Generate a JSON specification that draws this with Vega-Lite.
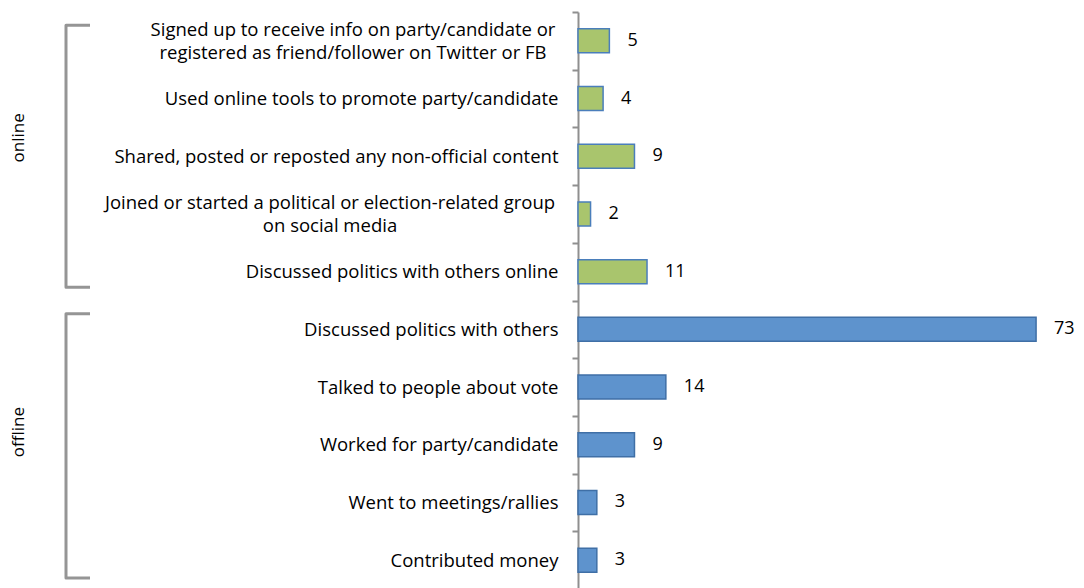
{
  "$schema": "https://vega.github.io/schema/vega-lite/v6.json",
  "background": "white",
  "padding": {"left": 0, "top": 3, "right": 0, "bottom": 0},
  "config": {"view": {"stroke": null}, "font": "Open Sans"},
  "spacing": 0,
  "hconcat": [
    {
      "width": 95,
      "height": 577,
      "layer": [
        {
          "data": {"values": [
            {"group": "online", "step": 1, "bx": 90, "by": 0.23},
            {"group": "online", "step": 2, "bx": 66, "by": 0.23},
            {"group": "online", "step": 3, "bx": 66, "by": 4.77},
            {"group": "online", "step": 4, "bx": 90, "by": 4.77},
            {"group": "offline", "step": 1, "bx": 90, "by": 5.23},
            {"group": "offline", "step": 2, "bx": 66, "by": 5.23},
            {"group": "offline", "step": 3, "bx": 66, "by": 9.81},
            {"group": "offline", "step": 4, "bx": 90, "by": 9.81}
          ]},
          "mark": {"type": "line", "stroke": "#959595", "strokeWidth": 3, "strokeJoin": "round"},
          "encoding": {
            "x": {"field": "bx", "type": "quantitative", "scale": {"domain": [0, 95]}, "axis": null},
            "y": {"field": "by", "type": "quantitative", "scale": {"domain": [0, 10], "reverse": true}, "axis": null},
            "detail": {"field": "group"},
            "order": {"field": "step", "type": "quantitative"}
          }
        },
        {
          "data": {"values": [
            {"group": "online", "tx": 19, "ty": 2.18},
            {"group": "offline", "tx": 19, "ty": 7.28}
          ]},
          "mark": {"type": "text", "angle": 270, "fontSize": 17, "align": "center", "baseline": "middle", "color": "black"},
          "encoding": {
            "x": {"field": "tx", "type": "quantitative", "scale": {"domain": [0, 95]}, "axis": null},
            "y": {"field": "ty", "type": "quantitative", "scale": {"domain": [0, 10], "reverse": true}, "axis": null},
            "text": {"field": "group"}
          }
        }
      ]
    },
    {
      "width": 502,
      "height": 577,
      "data": {"values": [
        {"group": "online", "label": "Signed up to receive info on party/candidate or|registered as friend/follower on Twitter or FB", "value": 5},
        {"group": "online", "label": "Used online tools to promote party/candidate", "value": 4},
        {"group": "online", "label": "Shared, posted or reposted any non-official content", "value": 9},
        {"group": "online", "label": "Joined or started a political or election-related group|on social media", "value": 2},
        {"group": "online", "label": "Discussed politics with others online", "value": 11},
        {"group": "offline", "label": "Discussed politics with others", "value": 73},
        {"group": "offline", "label": "Talked to people about vote", "value": 14},
        {"group": "offline", "label": "Worked for party/candidate", "value": 9},
        {"group": "offline", "label": "Went to meetings/rallies", "value": 3},
        {"group": "offline", "label": "Contributed money", "value": 3}
      ]},
      "encoding": {
        "y": {
          "field": "label", "type": "nominal", "sort": null,
          "scale": {"paddingInner": 0, "paddingOuter": 0},
          "axis": {
            "title": null, "domainColor": "#8f8f8f", "domainWidth": 2,
            "tickColor": "#8f8f8f", "tickWidth": 2, "tickSize": 6, "tickBand": "extent",
            "labelFontSize": 18.5, "labelColor": "black", "labelLimit": 0,
            "labelLineHeight": 23, "labelExpr": "split(datum.label, '|')",
            "labelAlign": {"condition": {"test": "indexof(datum.label, '|') >= 0", "value": "center"}, "value": "right"},
            "labelOffset": {"condition": {"test": "indexof(datum.label, '|') >= 0", "value": -11.5}, "value": 0},
            "labelPadding": {"condition": [
              {"test": "indexof(datum.label, 'Signed') == 0", "value": 219.5},
              {"test": "indexof(datum.label, 'Joined') == 0", "value": 242.5}
            ], "value": 14},
            "minExtent": 483, "maxExtent": 483
          }
        },
        "x": {"field": "value", "type": "quantitative", "scale": {"domain": [0, 80]}, "axis": null}
      },
      "layer": [
        {
          "mark": {"type": "bar", "height": 24, "strokeWidth": 1.5},
          "encoding": {
            "fill": {"field": "group", "type": "nominal", "scale": {"domain": ["online", "offline"], "range": ["#A9C56D", "#5E93CD"]}, "legend": null},
            "stroke": {"field": "group", "type": "nominal", "scale": {"domain": ["online", "offline"], "range": ["#4A7EBB", "#3F6FA6"]}, "legend": null}
          }
        },
        {
          "mark": {"type": "text", "align": "left", "baseline": "middle", "dx": 18, "fontSize": 18, "color": "black"},
          "encoding": {"text": {"field": "value", "type": "quantitative"}}
        }
      ]
    }
  ]
}
